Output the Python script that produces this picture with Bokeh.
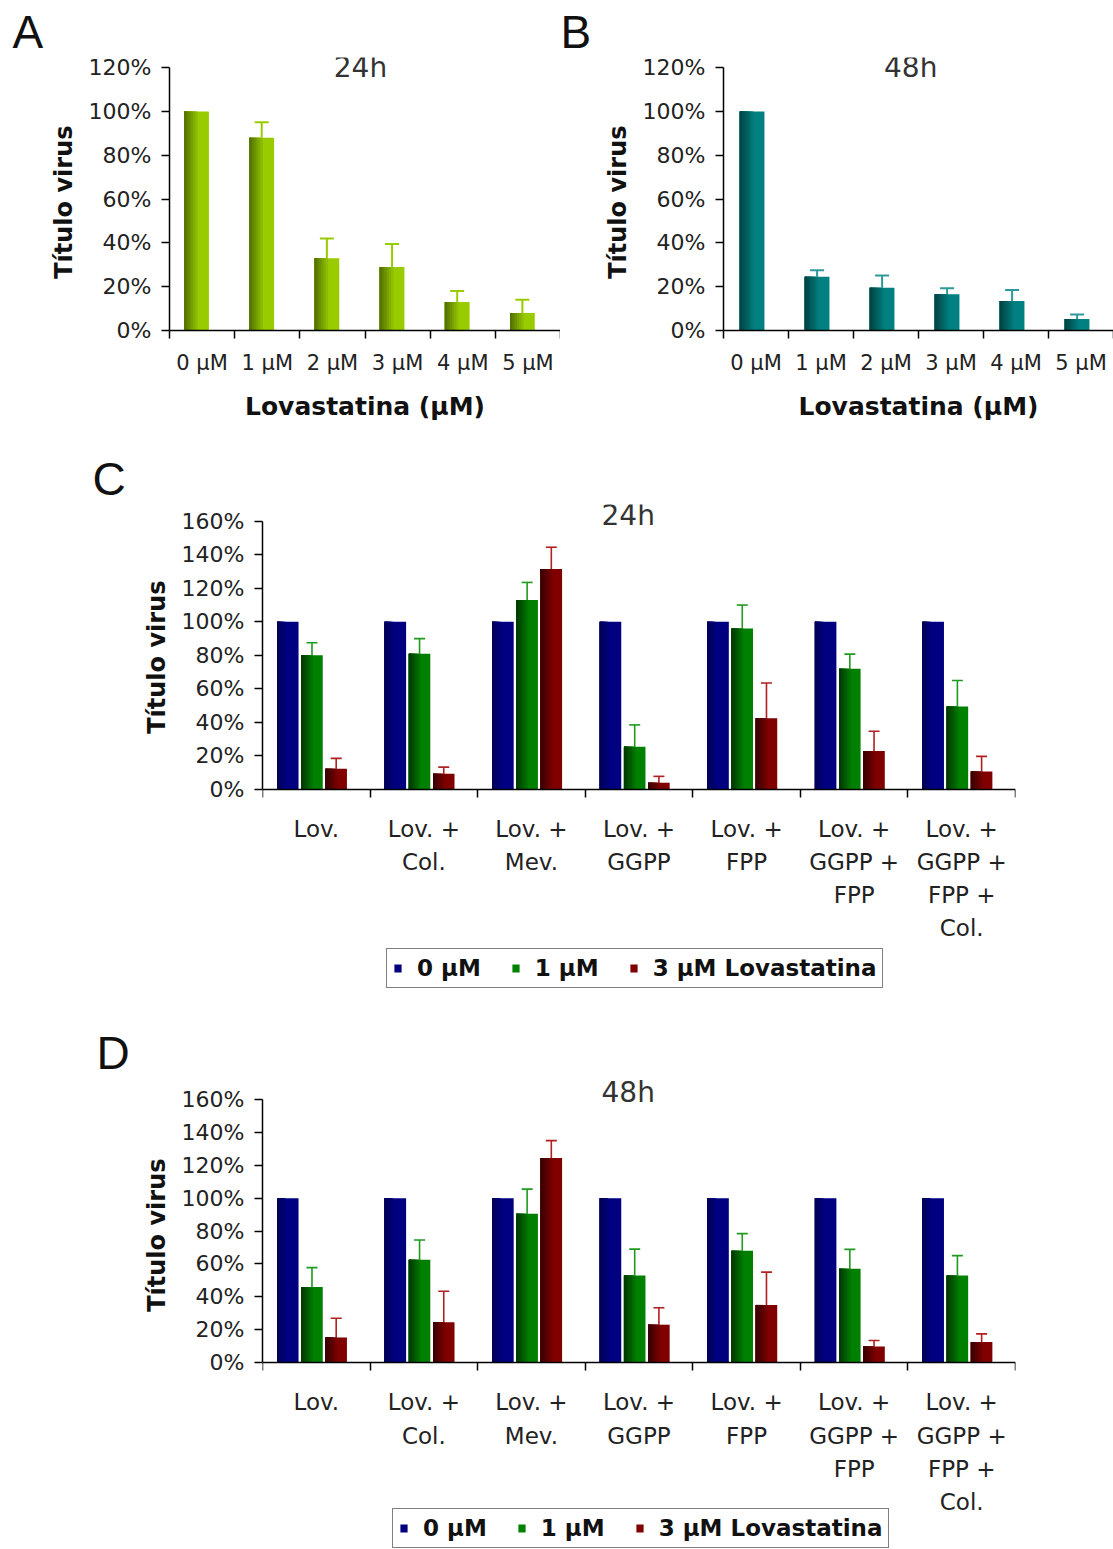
import numpy as np
import pandas as pd
from bokeh.plotting import figure
from bokeh.models import (ColumnDataSource, FixedTicker, PrintfTickFormatter, Whisker,
                          TeeHead, Legend, LegendItem, Label, Title)
from bokeh.layouts import column, row
from bokeh.embed import file_html
from bokeh.resources import INLINE

# ---------------- data ----------------
dose_labels = ["0 µM", "1 µM", "2 µM", "3 µM", "4 µM", "5 µM"]
a24_values = [100, 88, 33, 29, 13, 8]
a24_errors = [0, 7, 9, 10.5, 5, 6]
b48_values = [100, 24.5, 19.5, 16.5, 13.5, 5.3]
b48_errors = [0, 3, 5.6, 2.8, 5, 2]

treatments = ["Lov.", "Lov. +\nCol.", "Lov. +\nMev.", "Lov. +\nGGPP", "Lov. +\nFPP",
              "Lov. +\nGGPP +\nFPP", "Lov. +\nGGPP +\nFPP +\nCol."]
series_labels = ["0 µM", "1 µM", "3 µM Lovastatina"]

c24_0uM = [100, 100, 100, 100, 100, 100, 100]
c24_1uM = [80, 81, 113, 25.5, 96, 72, 49.5]
c24_1uM_err = [7.5, 9, 10.5, 13, 14, 8.7, 15.5]
c24_3uM = [12.3, 9.3, 131.5, 4, 42.5, 23, 10.7]
c24_3uM_err = [6.2, 4, 13, 3.8, 21, 11.7, 9]

d48_0uM = [100, 100, 100, 100, 100, 100, 100]
d48_1uM = [46, 62.5, 90.5, 53, 68, 57, 53]
d48_1uM_err = [11.7, 12, 15, 16, 10.4, 11.8, 12]
d48_3uM = [15.2, 24.5, 124.5, 23, 35, 9.7, 12.4]
d48_3uM_err = [11.7, 18.8, 10.5, 10.3, 20, 3.7, 5]

y_ticks_ab = [0, 20, 40, 60, 80, 100, 120]
y_ticks_cd = [0, 20, 40, 60, 80, 100, 120, 140, 160]

TICK_FONT = "DejaVu Sans"
BOLD_FONT = "DejaVu Sans"
LETTER_FONT = "Liberation Sans"


def mix(c1, c2, t):
    a = [int(c1[i:i + 2], 16) for i in (1, 3, 5)]
    b = [int(c2[i:i + 2], 16) for i in (1, 3, 5)]
    return "#" + "".join("%02x" % int(round(a[j] + (b[j] - a[j]) * t)) for j in range(3))


def shaded_bars(p, xs, tops, width, main, dark, nstrips=6, cover=0.55):
    xs = np.asarray(xs, float)
    base = p.vbar(x=xs, top=tops, bottom=0, width=width, fill_color=main, line_color=None)
    for k in range(nstrips):
        frac = cover * (nstrips - k) / nstrips
        w = width * frac
        col = mix(dark, main, (nstrips - k) / (nstrips + 1))
        p.vbar(x=xs - width / 2 + w / 2, top=tops, bottom=0, width=w,
               fill_color=col, line_color=None)
    return base


def add_whiskers(p, xs, vals, errs, color, lw, cap):
    df = pd.DataFrame({"x": np.asarray(xs, float), "lo": vals,
                       "hi": np.asarray(vals, float) + np.asarray(errs, float), "e": errs})
    df = df[df["e"] > 0]
    src = ColumnDataSource(df)
    w = Whisker(base="x", lower="lo", upper="hi", source=src, dimension="height",
                line_color=color, line_width=lw,
                upper_head=TeeHead(size=cap, line_color=color, line_width=lw),
                lower_head=None)
    p.add_layout(w)


def make_fig(width, height, n, yrange, borders, labels, yticks, xtick_size, ytick_size,
             ylabel_offset, xlabel=None, label_line_height=1.2, x_standoff=12, fixed_x=False):
    left, right, top, bottom = borders
    p = figure(width=width, height=height, x_range=(-0.5, n - 0.5), y_range=yrange,
               output_backend="svg", toolbar_location=None,
               min_border_left=left, min_border_right=right,
               min_border_top=top, min_border_bottom=bottom)
    p.xgrid.visible = False
    p.ygrid.visible = False
    p.outline_line_color = None
    p.background_fill_color = "white"
    p.border_fill_color = "white"

    xa = p.xaxis[0]
    if fixed_x:
        xa.fixed_location = 0
    xa.ticker = FixedTicker(ticks=list(range(n)), minor_ticks=[i - 0.5 for i in range(n + 1)])
    xa.major_label_overrides = {i: lab for i, lab in enumerate(labels)}
    xa.major_tick_out = 0
    xa.major_tick_in = 0
    xa.minor_tick_out = 8
    xa.minor_tick_in = 0
    xa.minor_tick_line_color = "black"
    xa.minor_tick_line_width = 1.5
    xa.axis_line_color = "black"
    xa.axis_line_width = 1.5
    xa.major_label_text_font = TICK_FONT
    xa.major_label_text_font_size = xtick_size
    xa.major_label_text_color = "#222222"
    xa.major_label_text_line_height = label_line_height
    xa.major_label_standoff = x_standoff
    xa.major_label_orientation = "horizontal"
    if xlabel:
        xa.axis_label = xlabel
        xa.axis_label_text_font = BOLD_FONT
        xa.axis_label_text_font_style = "bold"
        xa.axis_label_text_font_size = "25px"
        xa.axis_label_text_color = "#111111"
        xa.axis_label_standoff = 14

    ya = p.yaxis[0]
    ya.ticker = FixedTicker(ticks=yticks, minor_ticks=[])
    ya.formatter = PrintfTickFormatter(format="%d%%")
    ya.bounds = (0, yticks[-1])
    ya.major_tick_out = 8
    ya.major_tick_in = 0
    ya.major_tick_line_width = 1.5
    ya.minor_tick_out = 0
    ya.minor_tick_in = 0
    ya.axis_line_color = "black"
    ya.axis_line_width = 1.5
    ya.major_label_text_font = TICK_FONT
    ya.major_label_text_font_size = ytick_size
    ya.major_label_text_color = "#222222"
    ya.major_label_standoff = 10
    # y-axis title placed as a side title so it can sit over the 0-max span only
    p.add_layout(Title(text="Título virus", align="right", offset=ylabel_offset,
                       vertical_align="bottom", standoff=16,
                       text_font=BOLD_FONT, text_font_style="bold",
                       text_font_size="24px", text_color="#111111"), "left")
    return p


def add_label(p, x, y, text, size, color="#222222"):
    p.add_layout(Label(x=x, y=y, text=text, text_font=TICK_FONT, text_font_size=size,
                       text_color=color, text_align="center", text_baseline="middle"))


def add_letter(p, text, offset):
    p.add_layout(Title(text=text, align="left", offset=offset, standoff=0,
                       text_font=LETTER_FONT, text_font_size="46px",
                       text_font_style="normal", text_color="#111111"), "above")


# ---------------- panel A ----------------
pA = make_fig(560, 430, len(dose_labels), (0, 124.6), (169, 0, 57, 100), dose_labels,
              y_ticks_ab, "21px", "22px", 68, xlabel="Lovastatina (µM)")
xa = np.arange(len(dose_labels)) - 0.085
shaded_bars(pA, xa, a24_values, 0.38, "#99cc00", "#4a6600")
add_whiskers(pA, xa, a24_values, a24_errors, "#99cc00", 2, 14)
add_label(pA, 2.43, 120, "24h", "28px", "#333333")
add_letter(pA, "A", -157)

# ---------------- panel B ----------------
pB = make_fig(553, 430, len(dose_labels), (0, 124.6), (163, 0, 57, 100), dose_labels,
              y_ticks_ab, "21px", "22px", 68, xlabel="Lovastatina (µM)")
xb = np.arange(len(dose_labels)) - 0.06
shaded_bars(pB, xb, b48_values, 0.38, "#008080", "#003c3c")
add_whiskers(pB, xb, b48_values, b48_errors, "#2f9999", 2, 14)
add_label(pB, 2.38, 120, "48h", "28px", "#333333")
add_letter(pB, "B", -163)


# ---------------- panels C and D ----------------
def grouped(p, v0, v1, e1, v3, e3, legend_loc):
    n = len(treatments)
    idx = np.arange(n)
    offs = [-0.265, -0.04, 0.185]
    w = 0.2
    r0 = shaded_bars(p, idx + offs[0], v0, w, "#000080", "#000050", cover=0.4)
    r1 = shaded_bars(p, idx + offs[1], v1, w, "#008000", "#003000")
    r3 = shaded_bars(p, idx + offs[2], v3, w, "#800000", "#300000")
    add_whiskers(p, idx + offs[1], v1, e1, "#1f9a1f", 1.6, 11)
    add_whiskers(p, idx + offs[2], v3, e3, "#b02020", 1.6, 11)
    leg = Legend(items=[LegendItem(label=series_labels[0], renderers=[r0]),
                        LegendItem(label=series_labels[1], renderers=[r1]),
                        LegendItem(label=series_labels[2], renderers=[r3])],
                 orientation="horizontal", location=legend_loc,
                 border_line_color="black", border_line_width=1.5,
                 background_fill_color="white", background_fill_alpha=1.0,
                 label_text_font=BOLD_FONT, label_text_font_style="bold",
                 label_text_font_size="23px", label_text_color="#111111",
                 glyph_width=9, glyph_height=10, label_standoff=15, spacing=30,
                 padding=6, margin=0)
    p.add_layout(leg, "center")


pC = make_fig(1113, 580, len(treatments), (-131.9, 170), (262, 98, 74, 0), treatments,
              y_ticks_cd, "23px", "22px", 76, label_line_height=1.27, x_standoff=19,
              fixed_x=True)
grouped(pC, c24_0uM, c24_1uM, c24_1uM_err, c24_3uM, c24_3uM_err, (124, 22))
add_label(pC, 2.90, 163.6, "24h", "28px", "#333333")
add_letter(pC, "C", -170)

pD = make_fig(1113, 539, len(treatments), (-113.8, 172.8), (262, 98, 68, 0), treatments,
              y_ticks_cd, "23px", "22px", 80, label_line_height=1.27, x_standoff=19,
              fixed_x=True)
grouped(pD, d48_0uM, d48_1uM, d48_1uM_err, d48_3uM, d48_3uM_err, (130, 1))
add_label(pD, 2.90, 164.4, "48h", "28px", "#333333")
add_letter(pD, "D", -166)

layout = column(row(pA, pB, spacing=0), pC, pD, spacing=0)
open("out.html", "w").write(file_html(layout, INLINE))
